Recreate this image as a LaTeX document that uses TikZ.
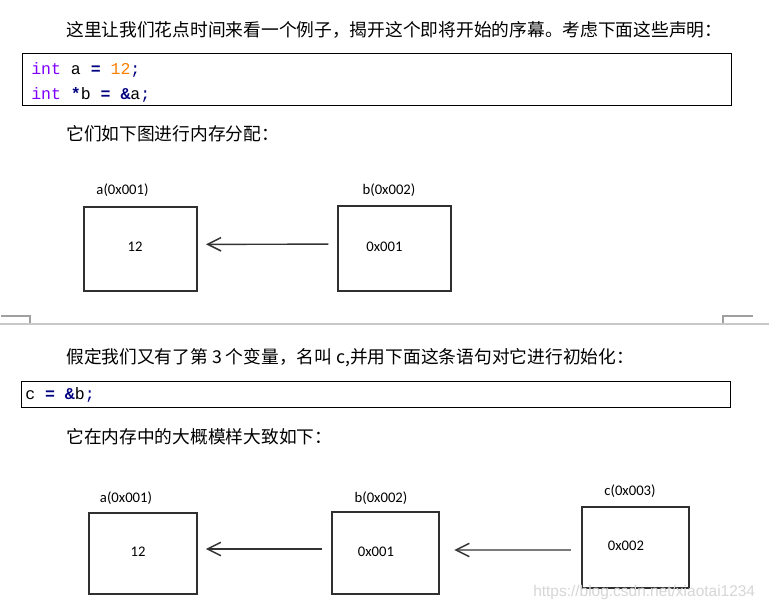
\documentclass[tikz,border=0pt]{standalone}
\usepackage{fontspec}
\newfontfamily\cjk{Noto Sans CJK SC}
\newfontfamily\codefont{Liberation Mono}
\newfontfamily\lblfont{Carlito}
\newfontfamily\wmfont{Liberation Sans}
\usetikzlibrary{arrows.meta}
\definecolor{kwpurple}{HTML}{8000FF}
\definecolor{numorange}{HTML}{FF8000}
\definecolor{opnavy}{HTML}{000080}
\definecolor{sepgray}{HTML}{C8C8C8}
\definecolor{markgray}{HTML}{A0A0A0}
\definecolor{wmgray}{HTML}{D6D6D6}
\definecolor{boxline}{HTML}{303030}
\newcommand{\kw}[1]{\textcolor{kwpurple}{#1}}
\newcommand{\num}[1]{\textcolor{numorange}{#1}}
\newcommand{\op}[1]{\textcolor{opnavy}{\bfseries #1}}
\newcommand{\pn}[1]{\textcolor{opnavy}{#1}}
\begin{document}
\begin{tikzpicture}[x=0.75pt,y=-0.75pt,
  prose/.style={anchor=west,inner sep=0pt,font=\cjk\fontsize{13.3}{16}\selectfont},
  codebox/.style={draw=black,line width=0.75pt,inner sep=0pt},
  codeline/.style={anchor=west,inner sep=0pt,font=\codefont\fontsize{12.4}{14}\selectfont},
  membox/.style={draw=boxline,line width=1.5pt,inner sep=0pt},
  lbl/.style={inner sep=0pt,font=\lblfont\fontsize{11}{13}\selectfont},
  val/.style={inner sep=0pt,font=\lblfont\fontsize{11}{13}\selectfont},
  ptr/.style={draw=black!80,line width=1.1pt,-{Straight Barb[length=10pt,width=10pt,line width=1.1pt]}},
  sepline/.style={draw=sepgray,line width=1.5pt},
  cornermark/.style={draw=markgray,line width=0.8pt}
]
\useasboundingbox (0,0) rectangle (769,610);
\fill[white] (0,0) rectangle (769,610);

% ---- first part ----
\node[prose] (t1) at (66,30) {这里让我们花点时间来看一个例子，揭开这个即将开始的序幕。考虑下面这些声明：};
\node[codebox,minimum width=531.75pt,minimum height=39pt] (code1) at (376.5,80) {};
\node[codeline] (c1l1) at (31,70) {\kw{int} a \op{=} \num{12}\pn{;}};
\node[codeline] (c1l2) at (31,95) {\kw{int} \op{*}b \op{=} \op{\&}a\pn{;}};
\node[prose] (t2) at (66,134) {它们如下图进行内存分配：};

\node[membox,minimum width=84.4pt,minimum height=63pt] (a1) at (140.3,249) {};
\node[membox,minimum width=84.4pt,minimum height=63.75pt] (b1) at (394.3,248.5) {};
\node[lbl] (la1) at (122.5,190) {a(0x001)};
\node[lbl] (lb1) at (389,190) {b(0x002)};
\node[val] (va1) at (135,247) {12};
\node[val] (vb1) at (384.5,247) {0x001};
\draw[ptr] ([shift={(-8.6,-4.3)}]b1.west) -- ([shift={(8.5,-4.7)}]a1.east);

% ---- page separator ----
\coordinate (sl) at (0,323.5);
\coordinate (sr) at (769,323.5);
\draw[sepline] (sl) -- (sr);
\coordinate (ml0) at (1,316);
\coordinate (ml1) at (30,316);
\coordinate (ml2) at (30,323);
\draw[cornermark] (ml0) -- (ml1) -- (ml2);
\coordinate (mr0) at (752.5,316);
\coordinate (mr1) at (723,316);
\coordinate (mr2) at (723,323);
\draw[cornermark] (mr0) -- (mr1) -- (mr2);

% ---- second part ----
\node[prose] (t3) at (66,358) {假定我们又有了第 3 个变量，名叫 c,并用下面这条语句对它进行初始化：};
\node[codebox,minimum width=532.1pt,minimum height=19.7pt] (code2) at (376.25,394.85) {};
\node[codeline] (c2l1) at (25,395) {c \op{=} \op{\&}b\pn{;}};
\node[prose] (t4) at (66,437) {它在内存中的大概模样大致如下：};

\node[membox,minimum width=80.3pt,minimum height=61pt] (a2) at (143,553.3) {};
\node[membox,minimum width=80pt,minimum height=61.5pt] (b2) at (385.3,553) {};
\node[membox,minimum width=80.3pt,minimum height=60.75pt] (c2) at (635.5,547.2) {};
\node[lbl] (la2) at (126,498) {a(0x001)};
\node[lbl] (lb2) at (381,498) {b(0x002)};
\node[lbl] (lc2) at (630,491) {c(0x003)};
\node[val] (va2) at (138,552) {12};
\node[val] (vb2) at (376,552) {0x001};
\node[val] (vc2) at (626,546) {0x002};
\draw[ptr] ([shift={(-8.5,-4)}]b2.west) -- ([shift={(8.4,-4.3)}]a2.east);
\draw[ptr] ([shift={(-10,2.8)}]c2.west) -- ([shift={(14.7,-3)}]b2.east);

% watermark
\node[inner sep=0pt,anchor=west,text=wmgray,font=\wmfont\fontsize{11.6}{13}\selectfont] (wm) at (533,592) {https://blog.csdn.net/xiaotai1234};
\end{tikzpicture}
\end{document}
